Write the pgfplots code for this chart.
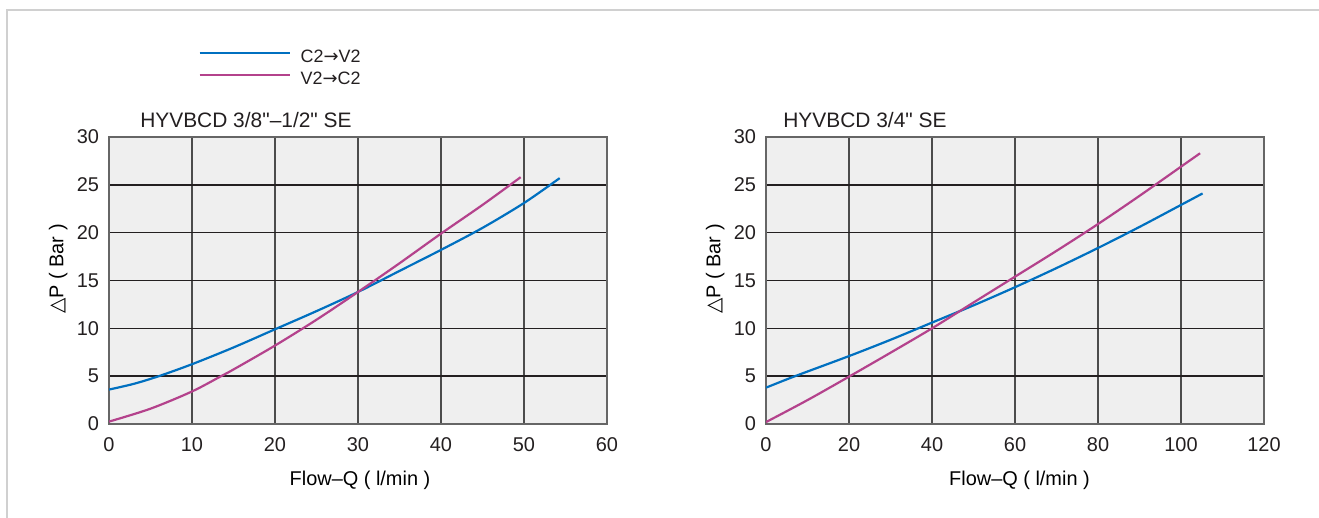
\documentclass[border=0pt]{standalone}
\usepackage{fontspec}
\setmainfont{Liberation Sans}
\newfontfamily\plainsans{Liberation Sans}
\newfontfamily\dejavu{DejaVu Sans}
\usepackage{pgfplots}
\pgfplotsset{compat=1.18}

\definecolor{curveblue}{RGB}{0,112,192}
\definecolor{curvemag}{RGB}{180,66,140}
\definecolor{plotbg}{RGB}{239,239,239}
\definecolor{txt}{RGB}{35,31,32}
\definecolor{framegray}{RGB}{208,208,208}

% straight inch mark, without the TeX ligature mapping
\newcommand{\inch}{{\plainsans\symbol{34}}}

\pgfplotsset{
  valve/.style={
    scale only axis, width=249bp, height=143.5bp,
    ymin=0, ymax=30, ytick={0,5,...,30},
    xmin=0,
    axis background/.style={fill=plotbg},
    axis line style={black!60, line width=0.8bp},
    xmajorgrids, ymajorgrids,
    x grid style={black!70, line width=0.8bp},
    y grid style={txt, line width=0.8bp},
    major tick length=0pt,
    tick label style={font=\fontsize{10}{12}\selectfont, text=txt},
    /pgf/number format/assume math mode=true,
    yticklabel style={xshift=-1.5bp},
    xticklabel style={yshift=-3.5bp},
    title style={font=\fontsize{10.5}{12}\selectfont, text=txt, anchor=base west, inner sep=0pt},
    label style={font=\fontsize{10}{12}\selectfont, text=txt},
    xlabel={Flow–Q ( l/min )},
    ylabel={{\dejavu △}P ( Bar )},
    every axis y label/.style={at={(axis description cs:-0.102,0.54)}, rotate=90, anchor=center},
    every axis plot/.append style={smooth, line width=1.1bp, no markers},
  }
}

\begin{document}
\begin{tikzpicture}
\useasboundingbox (0,0) rectangle (659.5bp,259bp);
\draw[framegray, line width=1bp] (3.5bp,0) -- (3.5bp,254bp) -- (659.5bp,254bp);

\begin{axis}[valve,
  at={(54.5bp,47bp)}, anchor=south west,
  xmax=60, xtick={0,10,...,60},
  title={HYVBCD 3/8\inch–1/2\inch{} SE},
  title style={at={(axis description cs:0.062,0.993)}},
  every axis x label/.style={at={(axis description cs:0.504,-0.195)}, anchor=center},
  legend style={at={(axis description cs:0.179,1.233)}, anchor=west,
    draw=none, fill=none, inner sep=0pt, row sep=0pt, column sep=5bp,
    font=\fontsize{9}{10}\selectfont, text=txt,
    nodes={inner sep=0pt, text height=7bp, text depth=4bp, anchor=west}},
  legend cell align=left,
  legend image code/.code={\draw[#1] (0bp,3bp) -- (45bp,3bp);},
]
\addplot[curveblue] coordinates {(0,3.6) (3,4.2) (6,5.0) (10,6.25) (15,8.0) (20,9.9) (25,11.8) (30,13.8) (35,16.0) (40,18.2) (45,20.5) (50,23.1) (54.3,25.7)};
\addlegendentry{C2{\dejavu →}V2}
\addplot[curvemag] coordinates {(0,0.25) (5,1.6) (10,3.4) (13.5,5.0) (15,5.7) (20,8.2) (25,10.9) (30,13.8) (35,16.8) (40,19.9) (45,22.9) (49.6,25.8)};
\addlegendentry{V2{\dejavu →}C2}
\end{axis}

\begin{axis}[valve,
  at={(383bp,47bp)}, anchor=south west,
  xmax=120, xtick={0,20,...,120},
  title={HYVBCD 3/4\inch{} SE},
  title style={at={(axis description cs:0.034,0.993)}},
  every axis x label/.style={at={(axis description cs:0.509,-0.195)}, anchor=center},
]
\addplot[curveblue] coordinates {(0,3.8) (7,5.0) (20,7.1) (30,8.8) (40,10.6) (50,12.4) (60,14.3) (70,16.3) (80,18.4) (90,20.6) (100,22.9) (105.2,24.1)};
\addplot[curvemag] coordinates {(0,0.2) (10,2.5) (20,4.95) (30,7.45) (40,10.0) (50,12.7) (60,15.4) (70,18.1) (80,20.9) (90,23.85) (100,26.9) (104.6,28.3)};
\end{axis}
\end{tikzpicture}
\end{document}
